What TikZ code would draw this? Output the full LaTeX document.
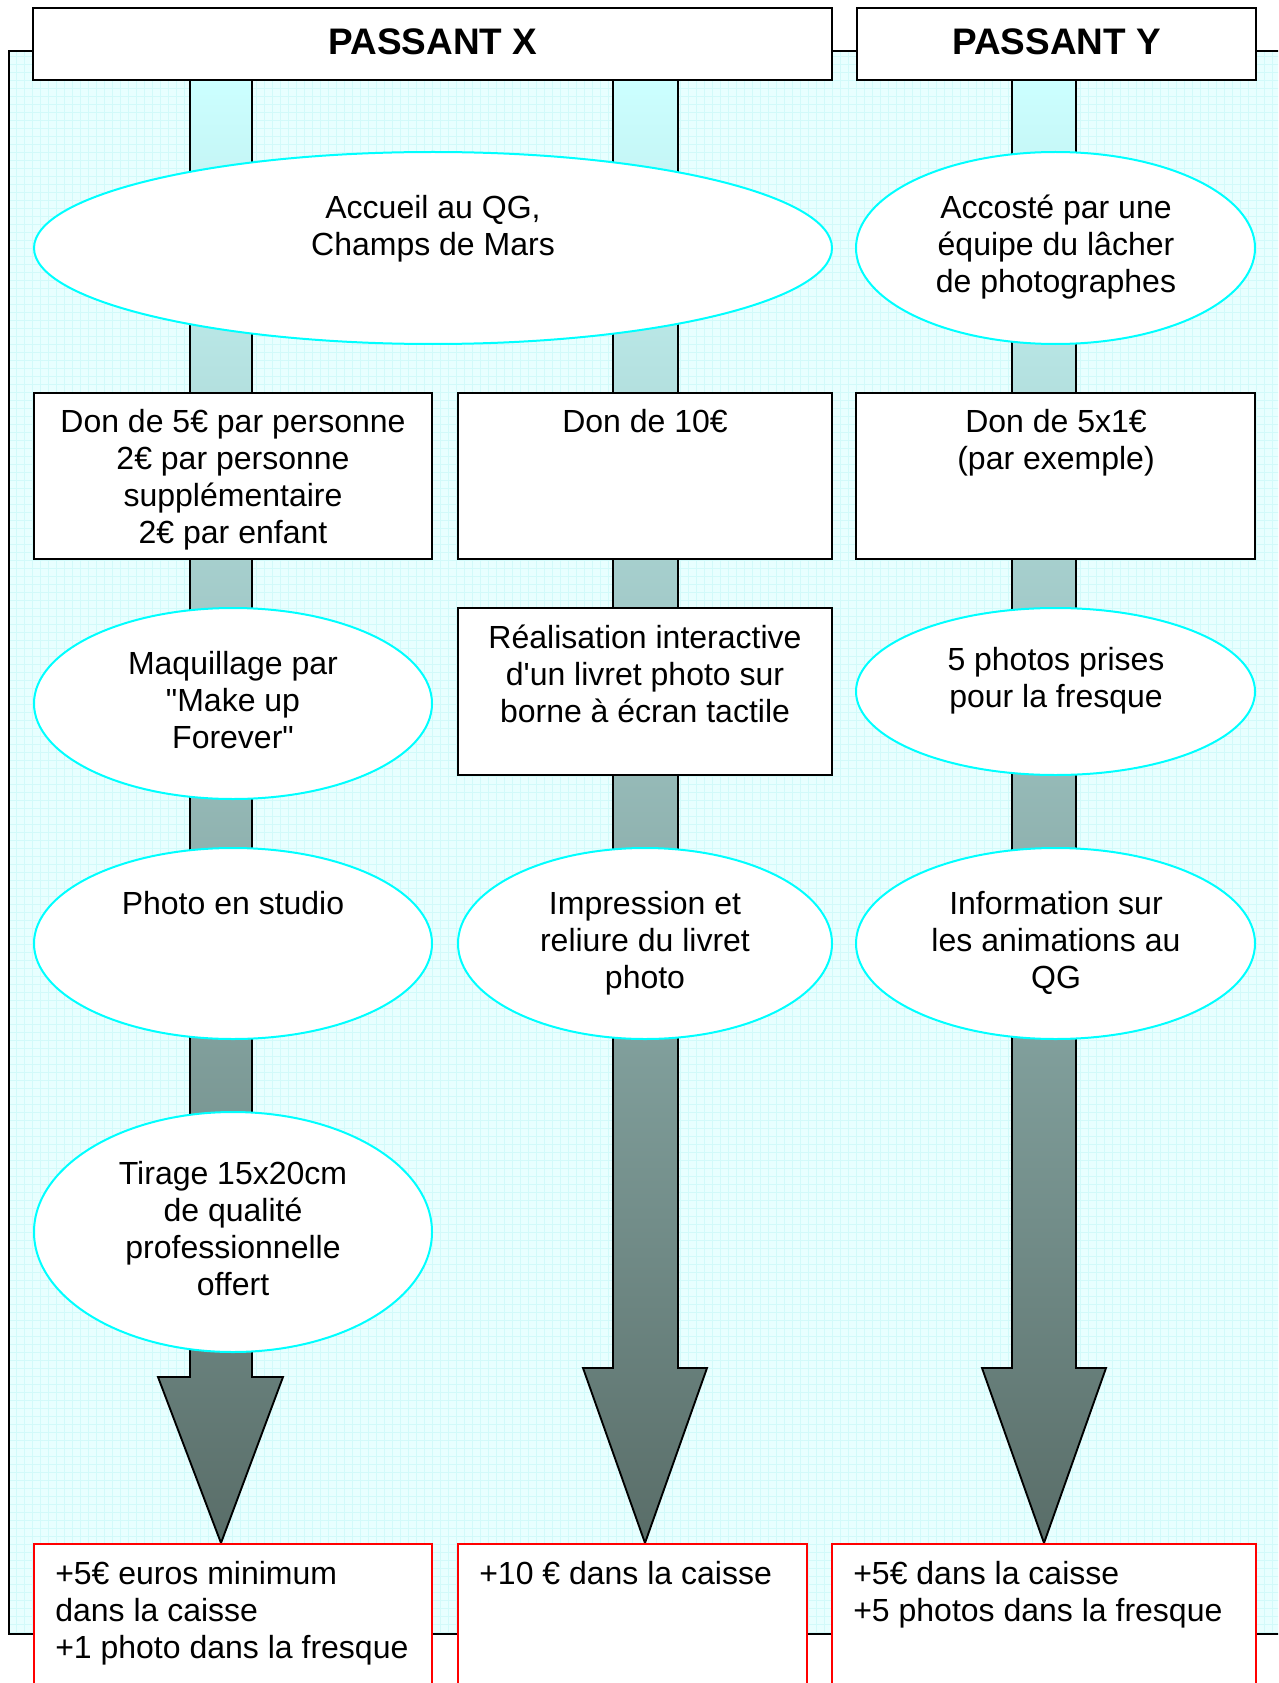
\documentclass[tikz,border=0pt]{standalone}
\usepackage{fontspec}
\setmainfont{Liberation Sans}[Ligatures=TeXOff]
\usetikzlibrary{shapes.geometric,calc}
\definecolor{bgc}{HTML}{E8FFFF}
\definecolor{gridc}{HTML}{D2FAFA}
\definecolor{arrtop}{HTML}{CCFFFF}
\definecolor{arrbot}{HTML}{596D68}
\definecolor{ellc}{HTML}{00FFFF}
\definecolor{redc}{HTML}{FF0000}
\newcommand\pxl[1]{(#1)*0.75pt}
\tikzset{
 ell/.style={ellipse, draw=ellc, line width=1.5pt, fill=white, inner sep=0pt},
 box/.style={rectangle, draw=black, line width=1.1pt, fill=white, inner sep=0pt},
 hdr/.style={rectangle, draw=black, line width=1.5pt, fill=white, inner sep=0pt},
 hdrtxt/.style={inner sep=0pt, font=\fontsize{27.7}{32}\selectfont\bfseries},
 res/.style={rectangle, draw=redc, line width=1.2pt, fill=white, inner sep=0pt},
 txt/.style={inner sep=0pt, align=center, font=\fontsize{24}{27.75}\selectfont},
 ltxt/.style={inner sep=0pt, align=left, anchor=west, font=\fontsize{24}{27.75}\selectfont},
 blk/.style={draw=black, line width=1.4pt, top color=arrtop, bottom color=arrbot, line join=miter},
}
\newcommand\rnode[6]{\node[#2, minimum width={\pxl{#5-#3}}, minimum height={\pxl{#6-#4}}] (#1) at ({(#3+#5)/2},{(#4+#6)/2}) {};}
\newcommand\enode[6]{\node[#2, minimum width={\pxl{#5-#3}}, minimum height={\pxl{#6-#4}}] (#1) at ({(#3+#5)/2},{(#4+#6)/2}) {};}
\begin{document}
\begin{tikzpicture}[x=0.75pt,y=-0.75pt]
\useasboundingbox (0,0) rectangle (1278,1683);
\clip (0,0) rectangle (1278,1683);
% background frame
\fill[bgc] (9,51) rectangle (1290,1634);
\draw[gridc, line width=0.4pt, step=6pt] (9,51) grid (1290,1634);
\draw[line width=1.5pt] (9,51) rectangle (1290,1634);
% block arrows
\path[blk] (190,80) -- (190,1377) -- (158,1377) -- (221,1543) -- (283,1377) -- (252,1377) -- (252,80) -- cycle;
\path[blk] (613,80) -- (613,1368) -- (583,1368) -- (645,1543) -- (707,1368) -- (678,1368) -- (678,80) -- cycle;
\path[blk] (1012,80) -- (1012,1368) -- (982,1368) -- (1044,1543) -- (1106,1368) -- (1076,1368) -- (1076,80) -- cycle;
% headers
\rnode{hX}{hdr}{33}{8}{832}{80}
\rnode{hY}{hdr}{857}{8}{1256}{80}
\node[hdrtxt] (tX) at (433,42) {PASSANT X};
\node[hdrtxt] (tY) at (1056.5,42) {PASSANT Y};
% ellipses
\enode{eAcc}{ell}{34}{152}{832}{344}
\enode{eAcy}{ell}{856}{152}{1255}{344}
\enode{eMaq}{ell}{34}{608}{432}{799}
\enode{ePho}{ell}{856}{608}{1255}{775}
\enode{eStu}{ell}{34}{848}{432}{1039}
\enode{eImp}{ell}{458}{848}{832}{1039}
\enode{eInf}{ell}{856}{848}{1255}{1039}
\enode{eTir}{ell}{34}{1112}{432}{1352}
% boxes
\rnode{bD1}{box}{34}{393}{432}{559}
\rnode{bD2}{box}{458}{393}{832}{559}
\rnode{bD3}{box}{856}{393}{1255}{559}
\rnode{bRea}{box}{458}{608}{832}{775}
\rnode{r1}{res}{34}{1544}{432}{1720}
\rnode{r2}{res}{458}{1544}{807}{1720}
\rnode{r3}{res}{832}{1544}{1256}{1720}
% texts
\node[txt] (tAcc) at (433,229) {Accueil au QG,\\Champs de Mars};
\node[txt] (tAcy) at (1056,247) {Accosté par une\\équipe du lâcher\\de photographes};
\node[txt] (tD1) at (233,480) {Don de 5€ par personne\\2€ par personne\\supplémentaire\\2€ par enfant};
\node[txt] (tD2) at (645,421) {Don de 10€};
\node[txt] (tD3) at (1056,443) {Don de 5x1€\\(par exemple)};
\node[txt] (tMaq) at (233,700) {Maquillage par\\"Make up\\Forever"};
\node[txt] (tRea) at (645,674) {Réalisation interactive\\d'un livret photo sur\\borne à écran tactile};
\node[txt] (tPho) at (1056,681) {5 photos prises\\pour la fresque};
\node[txt] (tStu) at (233,903) {Photo en studio};
\node[txt] (tImp) at (645,943) {Impression et\\reliure du livret\\photo};
\node[txt] (tInf) at (1056,943) {Information sur\\les animations au\\QG};
\node[txt] (tTir) at (233,1229) {Tirage 15x20cm\\de qualité\\professionnelle\\offert};
\node[ltxt] (tR1) at (55,1613) {+5€ euros minimum\\dans la caisse\\+1 photo dans la fresque};
\node[ltxt] (tR2) at (479,1573) {+10 € dans la caisse};
\node[ltxt] (tR3) at (853,1595) {+5€ dans la caisse\\+5 photos dans la fresque};
\end{tikzpicture}
\end{document}
